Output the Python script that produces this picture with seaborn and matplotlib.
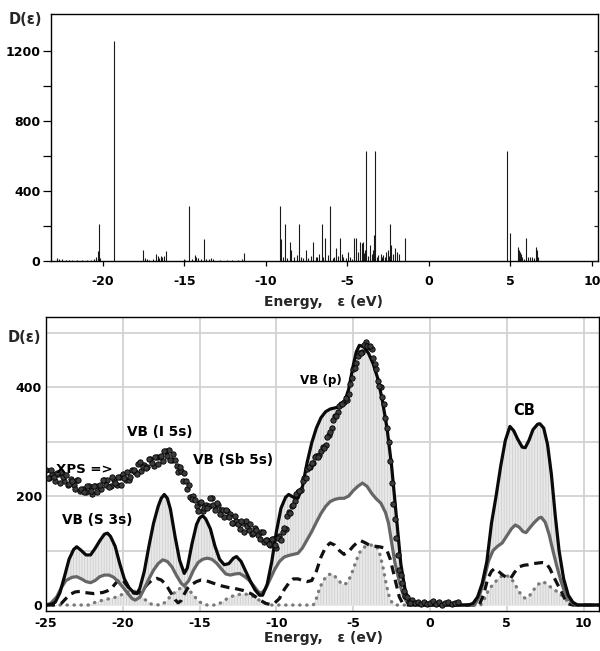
import numpy as np
import pandas as pd
import matplotlib
matplotlib.use("Agg")
import matplotlib.pyplot as plt
import seaborn as sns

# ---------------- data: top panel (stick spectrum) ----------------
STICK_E = [-22.85, -22.7, -22.5, -22.3, -22.1, -21.9, -21.6, -21.3, -21.0, -20.75, -20.55, -20.4, -20.32, -20.25, -20.18,
           -19.35,
           -17.55, -17.45, -17.3, -17.15, -16.95, -16.75, -16.65, -16.55, -16.45, -16.35, -16.25, -16.12,
           -15.05, -14.95, -14.72, -14.52, -14.38, -14.28, -14.15, -13.98, -13.78, -13.65, -13.5, -13.35, -13.25,
           -12.8, -12.4, -12.1, -11.7, -11.45, -11.32,
           -9.16, -9.08, -8.98, -8.83, -8.7, -8.53, -8.45, -8.3, -8.12, -7.96,
           -7.85, -7.7, -7.57, -7.4, -7.25, -7.1, -6.95, -6.85, -6.72, -6.58,
           -6.48, -6.38, -6.22, -6.07, -5.91, -5.8, -5.71, -5.56, -5.46, -5.35,
           -5.26, -5.09, -4.95, -4.84, -4.74, -4.6, -4.48, -4.34, -4.23, -4.13,
           -4.07, -3.99, -3.92, -3.85, -3.74, -3.62, -3.5, -3.42, -3.37, -3.3,
           -3.21, -3.1, -2.96, -2.88, -2.8, -2.72, -2.64, -2.52, -2.45, -2.39,
           -2.31, -2.19, -2.09, -1.94, -1.82, -1.45,
           4.77, 4.97, 5.44, 5.5, 5.56, 5.63, 5.71, 5.83, 5.95, 6.09, 6.2, 6.3, 6.44, 6.55, 6.6, 6.69]
STICK_D = [18, 12, 10, 8, 6, 5, 5, 4, 6, 8, 12, 22, 55, 211, 15,
           1255,
           63, 18, 12, 8, 10, 38, 30, 15, 28, 22, 30, 55,
           10, 8, 316, 10, 33, 25, 18, 12, 127, 12, 10, 15, 14,
           6, 5, 8, 6, 10, 46,
           316, 126, 20, 210, 15, 108, 60, 20, 35, 211,
           25, 15, 63, 18, 30, 108, 22, 20, 40, 210,
           25, 130, 35, 316, 15, 20, 72, 30, 130, 40,
           25, 15, 50, 20, 10, 130, 130, 50, 107, 100,
           107, 45, 60, 628, 30, 94, 40, 60, 150, 628,
           20, 35, 40, 20, 35, 25, 50, 60, 30, 210,
           94, 40, 72, 50, 40, 130,
           628, 158, 82, 60, 50, 40, 25, 12, 130, 25, 25, 22, 15, 80, 65, 20]
TOP_XTICKS = [-20, -15, -10, -5, 0, 5, 10]
TOP_YTICKS = [0, 400, 800, 1200]

# ---------------- data: bottom panel (broadened DOS + XPS) ----------------
TOT_E = [-25, -24.7, -24.4, -24.1, -23.8, -23.5, -23.2, -23.0, -22.7, -22.4,
         -22.1, -21.8, -21.5, -21.2, -21.0, -20.8, -20.5, -20.2, -19.9, -19.6,
         -19.3, -19.1, -18.9, -18.6, -18.3, -18.0, -17.7, -17.5, -17.3, -17.1,
         -16.9, -16.6, -16.3, -16.0, -15.8, -15.5, -15.2, -15.0, -14.8, -14.6,
         -14.3, -14.0, -13.7, -13.4, -13.1, -12.8, -12.6, -12.3, -12.0, -11.7,
         -11.4, -11.1, -10.9, -10.6, -10.3, -10.0, -9.7, -9.4, -9.2, -8.9,
         -8.6, -8.3, -8.0, -7.7, -7.4, -7.1, -6.8, -6.5, -6.2, -5.9,
         -5.6, -5.3, -5.0, -4.8, -4.6, -4.3, -4.0, -3.7, -3.4, -3.1,
         -2.8, -2.5, -2.2, -1.9, -1.6, -1.3, -1.0, -0.5, 2.5, 2.8,
         3.1, 3.4, 3.7, 4.0, 4.3, 4.6, 4.9, 5.2, 5.45, 5.7,
         6.0, 6.2, 6.45, 6.7, 7.0, 7.15, 7.4, 7.65, 7.9, 8.15,
         8.4, 8.7, 9.0, 9.3, 9.6, 11]
TOT_D = [0, 1, 5, 22, 52, 84, 102, 107, 100, 92,
         92, 104, 118, 130, 132, 126, 108, 76, 48, 32,
         23, 21, 30, 62, 108, 150, 181, 196, 203, 196,
         176, 126, 82, 58, 68, 112, 148, 160, 164, 158,
         140, 108, 84, 74, 76, 86, 89, 80, 62, 44,
         28, 18, 18, 38, 80, 135, 178, 198, 203, 198,
         196, 218, 262, 298, 325, 344, 355, 360, 362, 364,
         370, 396, 440, 465, 477, 474, 462, 443, 416, 375,
         325, 255, 165, 75, 24, 7, 1, 0, 0, 3,
         15, 40, 80, 150, 200, 255, 302, 328, 320, 305,
         290, 289, 303, 322, 332, 333, 325, 295, 240, 165,
         100, 48, 18, 5, 0, 0]

PART_E = [-25, -24.7, -24.3, -24.0, -23.7, -23.3, -23.0, -22.7, -22.4, -22.1,
          -21.8, -21.5, -21.2, -20.9, -20.6, -20.3, -20.0, -19.7, -19.4, -19.2,
          -18.9, -18.6, -18.3, -18.0, -17.7, -17.4, -17.1, -16.8, -16.5, -16.2,
          -16.0, -15.7, -15.4, -15.1, -14.8, -14.5, -14.2, -13.9, -13.6, -13.3,
          -13.0, -12.7, -12.4, -12.1, -11.8, -11.5, -11.2, -11.0, -10.7, -10.4,
          -10.1, -9.8, -9.5, -9.2, -8.9, -8.6, -8.3, -8.0, -7.7, -7.4,
          -7.1, -6.8, -6.5, -6.2, -5.9, -5.6, -5.3, -5.0, -4.7, -4.4,
          -4.1, -3.8, -3.5, -3.2, -2.9, -2.7, -2.5, -2.3, -2.1, -1.9,
          -1.7, -1.5, -1.2, 2.9, 3.2, 3.5, 3.8, 4.1, 4.4, 4.7,
          5.0, 5.3, 5.55, 5.8, 6.05, 6.25, 6.5, 6.8, 7.1, 7.25,
          7.5, 7.75, 8.0, 8.25, 8.5, 8.75, 9.0, 9.3, 9.6, 11]
PART_D = [0, 3, 15, 32, 45, 51, 52, 48, 43, 41,
          45, 52, 55, 55, 51, 43, 33, 22, 12, 9,
          14, 30, 48, 64, 76, 83, 80, 70, 54, 40,
          35, 45, 64, 78, 84, 86, 84, 77, 67, 57,
          55, 57, 58, 53, 46, 36, 25, 21, 30, 48,
          66, 80, 88, 91, 93, 95, 105, 120, 135, 152,
          168, 181, 190, 194, 196, 196, 200, 210, 218, 224,
          218, 205, 195, 187, 170, 150, 115, 80, 55, 32,
          15, 5, 0, 0, 15, 45, 80, 100, 108, 114,
          127, 140, 147, 143, 135, 133, 142, 152, 160, 161,
          152, 130, 100, 72, 46, 25, 12, 3, 0, 0]

DASH_E = [-25, -24.5, -24.0, -23.7, -23.4, -23.1, -22.8, -22.5, -22.2, -21.9,
          -21.6, -21.3, -21.0, -20.7, -20.4, -20.2, -20.0, -19.8, -19.5, -19.3,
          -19.0, -18.7, -18.4, -18.1, -17.8, -17.5, -17.2, -16.9, -16.6, -16.4,
          -16.2, -16.0, -15.8, -15.5, -15.2, -14.9, -14.6, -14.3, -14.0, -13.7,
          -13.4, -13.1, -12.8, -12.5, -12.2, -11.9, -11.6, -11.3, -11.0, -10.7,
          -10.4, -10.1, -9.8, -9.5, -9.2, -8.9, -8.6, -8.3, -8.0, -7.7,
          -7.4, -7.1, -6.8, -6.5, -6.2, -5.9, -5.6, -5.3, -5.0, -4.7,
          -4.5, -4.2, -3.9, -3.6, -3.3, -3.0, -2.8, -2.6, -2.4, -2.2,
          -2.0, -1.8, -1.6, 3.2, 3.5, 3.75, 4.0, 4.2, 4.45, 4.7,
          5.0, 5.25, 5.5, 5.8, 6.1, 6.4, 6.7, 7.0, 7.3, 7.55,
          7.8, 8.05, 8.3, 8.55, 8.8, 9.0, 9.3, 11]
DASH_D = [0, 0, 3, 12, 20, 24, 25, 23, 22, 21,
          22, 23, 26, 32, 42, 48, 46, 38, 28, 22,
          22, 28, 38, 46, 49, 46, 38, 24, 10, 4,
          8, 20, 30, 38, 43, 46, 45, 42, 39, 36,
          34, 32, 31, 29, 27, 24, 20, 14, 8, 3,
          1, 4, 12, 28, 40, 48, 48, 45, 43, 45,
          62, 88, 106, 114, 110, 100, 93, 98, 108, 116,
          118, 114, 109, 108, 107, 105, 100, 85, 62, 38,
          15, 4, 0, 0, 20, 48, 62, 67, 62, 56,
          50, 49, 60, 70, 73, 74, 76, 77, 78, 77,
          67, 52, 38, 25, 10, 2, 0, 0]

DOT_E = [-25, -22.2, -21.9, -21.3, -20.5, -20.0, -19.6, -19.3, -19.0, -18.7,
         -18.4, -18.1, -17.5, -17.2, -16.9, -16.5, -16.2, -16.0, -15.7, -15.4,
         -15.1, -14.8, -14.5, -13.9, -13.5, -13.2, -12.8, -12.3, -12.0, -11.6,
         -11.3, -11.0, -10.7, -10.3, -7.6, -7.4, -7.2, -7.0, -6.8, -6.6,
         -6.35, -6.1, -5.85, -5.6, -5.35, -5.1, -4.85, -4.6, -4.3, -4.0,
         -3.7, -3.45, -3.25, -3.05, -2.85, -2.65, -2.45, -2.2, 3.3, 3.55,
         3.8, 4.1, 4.4, 4.7, 4.9, 5.15, 5.4, 5.65, 5.9, 6.2,
         6.45, 6.75, 7.0, 7.3, 7.55, 7.85, 8.15, 8.45, 8.75, 9.0,
         9.3, 11]
DOT_D = [0, 0, 4, 9, 14, 20, 25, 26, 22, 14,
         6, 1, 0, 6, 16, 26, 32, 34, 28, 18,
         8, 2, 0, 0, 6, 12, 17, 20, 20, 17,
         12, 7, 3, 0, 0, 12, 30, 42, 51, 56,
         57, 50, 42, 37, 42, 58, 78, 96, 106, 110,
         110, 106, 92, 68, 38, 15, 3, 0, 0, 12,
         27, 38, 47, 54, 55, 52, 44, 32, 20, 12,
         16, 28, 37, 43, 40, 33, 27, 21, 13, 6,
         0, 0]

# XPS experimental points (two interleaved readings of the scattered band)
XPS_E = [-25.0, -24.8, -24.6, -24.4, -24.2, -24.0, -23.8, -23.6, -23.4, -23.2,
         -23.0, -22.8, -22.6, -22.4, -22.2, -22.0, -21.8, -21.6, -21.4, -21.2,
         -21.0, -20.8, -20.6, -20.4, -20.2, -20.0, -19.8, -19.6, -19.4, -19.2,
         -19.0, -18.8, -18.6, -18.4, -18.2, -18.0, -17.8, -17.6, -17.4, -17.2,
         -17.0, -16.8, -16.6, -16.4, -16.2, -16.0, -15.8, -15.6, -15.4, -15.2,
         -15.0, -14.8, -14.6, -14.4, -14.2, -14.0, -13.8, -13.6, -13.4, -13.2,
         -13.0, -12.8, -12.6, -12.4, -12.2, -12.0, -11.8, -11.6, -11.4, -11.2,
         -11.0, -10.8, -10.6, -10.4, -10.2, -10.0, -9.8, -9.6, -9.4, -9.2,
         -9.0, -8.8, -8.6, -8.4, -8.2, -8.0, -7.8, -7.6, -7.4, -7.2,
         -7.0, -6.8, -6.6, -6.4, -6.2, -6.0, -5.8, -5.6, -5.4, -5.2,
         -5.0, -4.8, -4.6, -4.4, -4.2, -4.0, -3.8, -3.6, -3.4, -3.2,
         -3.0, -2.8, -2.6, -2.4, -2.2, -2.0, -1.8, -1.6, -1.4, -1.2,
         -1.0, -0.8, -0.6, -0.4, -0.2, 0.0, 0.2, 0.4, 0.6, 0.8,
         1.0, 1.2, 1.4, 1.6, 1.8]
XPS_D = [248, 233, 241, 228, 240, 244, 227, 220, 231, 220,
         229, 210, 214, 207, 219, 203, 219, 219, 213, 229,
         230, 219, 230, 220, 235, 240, 230, 230, 248, 244,
         259, 246, 257, 254, 269, 255, 271, 271, 265, 282,
         284, 266, 266, 244, 247, 242, 214, 198, 200, 182,
         187, 172, 184, 182, 197, 175, 184, 175, 162, 172,
         168, 150, 155, 140, 151, 154, 138, 131, 141, 129,
         135, 115, 120, 111, 121, 105, 127, 135, 139, 170,
         182, 191, 208, 211, 234, 250, 254, 261, 274, 276,
         290, 293, 312, 325, 348, 355, 370, 373, 377, 406,
         434, 444, 462, 465, 483, 473, 470, 443, 412, 400,
         369, 325, 264, 185, 123, 65, 40, 16, 5, 9,
         4, 6, 2, 5, 1, 4, 7, 2, 5, 0,
         4, 6, 1, 3, 5]
XPS2_E = [-24.9, -24.7, -24.5, -24.3, -24.1, -23.9, -23.7, -23.5, -23.3, -23.1,
          -22.9, -22.7, -22.5, -22.3, -22.1, -21.9, -21.7, -21.5, -21.3, -21.1,
          -20.9, -20.7, -20.5, -20.3, -20.1, -19.9, -19.7, -19.5, -19.3, -19.1,
          -18.9, -18.7, -18.5, -18.3, -18.1, -17.9, -17.7, -17.5, -17.3, -17.1,
          -16.9, -16.7, -16.5, -16.3, -16.1, -15.9, -15.7, -15.5, -15.3, -15.1,
          -14.9, -14.7, -14.5, -14.3, -14.1, -13.9, -13.7, -13.5, -13.3, -13.1,
          -12.9, -12.7, -12.5, -12.3, -12.1, -11.9, -11.7, -11.5, -11.3, -11.1,
          -10.9, -10.7, -10.5, -10.3, -10.1, -9.9, -9.7, -9.5, -9.3, -9.1,
          -8.9, -8.7, -8.5, -8.3, -8.1, -7.9, -7.7, -7.5, -7.3, -7.1,
          -6.9, -6.7, -6.5, -6.3, -6.1, -5.9, -5.7, -5.5, -5.3, -5.1,
          -4.9, -4.7, -4.5, -4.3, -4.1, -3.9, -3.7, -3.5, -3.3, -3.1,
          -2.9, -2.7, -2.5, -2.3, -2.1, -1.9, -1.7, -1.5, -1.3]
XPS2_D = [233, 248, 235, 242, 225, 235, 238, 222, 228, 213,
          229, 213, 207, 219, 209, 219, 207, 221, 229, 221,
          217, 235, 225, 236, 220, 234, 244, 235, 248, 240,
          262, 253, 252, 268, 260, 271, 259, 273, 282, 274,
          267, 277, 255, 254, 227, 227, 220, 195, 193, 173,
          189, 179, 179, 196, 184, 188, 168, 174, 175, 161,
          151, 163, 148, 154, 135, 145, 149, 132, 137, 121,
          134, 119, 112, 122, 111, 124, 119, 142, 163, 169,
          183, 204, 209, 227, 234, 253, 260, 272, 271, 282,
          288, 308, 318, 339, 348, 366, 369, 380, 388, 417,
          436, 457, 463, 478, 475, 475, 454, 433, 402, 382,
          344, 299, 224, 158, 91, 56, 25, 15, 3]

BOT_XTICKS = [-25, -20, -15, -10, -5, 0, 5, 10]
BOT_YTICKS = [0, 200, 400]
BOT_YGRID = [100, 300, 500]

LABELS = [("VB (S 3s)", -21.68, 156, 9.8),
          ("VB (I 5s)", -17.58, 317, 9.8),
          ("VB (Sb 5s)", -12.83, 266, 9.8),
          ("XPS =>", -22.5, 248, 9.6),
          ("VB (p)", -7.11, 413, 8.6),
          ("CB", 6.1, 358, 10.5)]

# ---------------- style ----------------
sns.set_style("white")
plt.rcParams["font.family"] = ["DejaVu Sans"]
plt.rcParams["font.weight"] = "bold"
plt.rcParams["axes.unicode_minus"] = False
plt.rcParams["hatch.linewidth"] = 0.5

W, H = 600, 651
fig = plt.figure(figsize=(W / 100, H / 100), dpi=100)
fig.patch.set_facecolor("white")

# ---------------- top panel ----------------
ax1 = fig.add_axes([51 / W, 1 - 261 / H, 547 / W, 247 / H])
ax1.vlines(STICK_E, 0, STICK_D, color="#1a1a1a", linewidth=0.8)
ax1.set_xlim(-23.19, 10.37)
ax1.set_ylim(0, 1409)
ax1.set_xticks(TOP_XTICKS)
ax1.set_xticklabels([str(t) for t in TOP_XTICKS])
ax1.set_yticks(TOP_YTICKS)
ax1.set_yticklabels([str(t) for t in TOP_YTICKS])
ax1.set_yticks([200, 600, 1000], minor=True)
ax1.tick_params(axis="x", which="major", direction="out", length=3.8, width=0.9,
                labelsize=9, pad=6, colors="black", bottom=True)
ax1.tick_params(axis="y", which="both", direction="out", length=5.5, width=0.9,
                labelsize=9, pad=2, colors="black", left=True)
for s in ax1.spines.values():
    s.set_color("black")
    s.set_linewidth(1.0)
ax1r = ax1.twinx()
ax1r.set_ylim(0, 1409)
ax1r.set_yticks([0, 200, 400, 600, 800, 1000, 1200])
ax1r.tick_params(axis="y", direction="in", length=3, width=0.9, labelright=False, right=True)
for s in ax1r.spines.values():
    s.set_visible(False)

fig.text(25 / W, 1 - 19 / H, "D(ε)", ha="center", va="center", fontsize=10.5, fontweight="bold")
fig.text(324 / W, 1 - 302 / H, "Energy,   ε (eV)", ha="center", va="center", fontsize=10, fontweight="bold")

# ---------------- bottom panel ----------------
ax2 = fig.add_axes([46 / W, 1 - 611 / H, 553 / W, 294 / H])
ax2.set_axisbelow(True)

ax2.fill_between(TOT_E, 0, TOT_D, facecolor="#e8e8e8", hatch="||||||", edgecolor="#cccccc",
                 linewidth=0, zorder=1)
ax2.fill_between(PART_E, 0, PART_D, facecolor="white", linewidth=0, zorder=1.1)
ax2.fill_between(DOT_E, 0, DOT_D, facecolor="#e8e8e8", hatch="||||||", edgecolor="#cccccc",
                 linewidth=0, zorder=1.2)

sns.lineplot(x=DOT_E, y=DOT_D, ax=ax2, color="#7a7a7a", linewidth=2.4,
             linestyle=(0, (0.1, 2.0)), dash_capstyle="round", sort=False, estimator=None, zorder=2)
sns.lineplot(x=DASH_E, y=DASH_D, ax=ax2, color="#111111", linewidth=2.3,
             linestyle=(0, (2.8, 1.8)), sort=False, estimator=None, zorder=2.1)
sns.lineplot(x=PART_E, y=PART_D, ax=ax2, color="#666666", linewidth=2.3,
             sort=False, estimator=None, zorder=2.2)
sns.lineplot(x=TOT_E, y=TOT_D, ax=ax2, color="#0a0a0a", linewidth=2.3,
             sort=False, estimator=None, zorder=2.3)

xps = pd.DataFrame({"E": XPS_E + XPS2_E, "D": XPS_D + XPS2_D})
sns.scatterplot(data=xps, x="E", y="D", ax=ax2, s=15, color="#3c3c3c", edgecolor="black",
                linewidth=0.6, zorder=4)

for txt, x, y, fs in LABELS:
    ax2.text(x, y, txt, ha="center", va="center", fontsize=fs, fontweight="bold",
             color="black", zorder=5)

ax2.set_xlim(-25, 11)
ax2.set_ylim(-11, 529)
ax2.set_xticks(BOT_XTICKS)
ax2.set_xticklabels([str(t) for t in BOT_XTICKS])
ax2.set_yticks(BOT_YTICKS)
ax2.set_yticklabels([str(t) for t in BOT_YTICKS])
ax2.set_yticks(BOT_YGRID, minor=True)
ax2.grid(True, which="both", color="#d2d2d2", linewidth=1.3)
ax2.tick_params(axis="both", which="both", length=0, labelsize=9, colors="black")
ax2.tick_params(axis="x", pad=4.5)
ax2.tick_params(axis="y", pad=3)
ax2.set_xlabel("")
ax2.set_ylabel("")
for s in ax2.spines.values():
    s.set_color("black")
    s.set_linewidth(1.0)
    s.set_zorder(6)

fig.text(24 / W, 1 - 337 / H, "D(ε)", ha="center", va="center", fontsize=10.5, fontweight="bold")
fig.text(323 / W, 1 - 638 / H, "Energy,   ε (eV)", ha="center", va="center", fontsize=10, fontweight="bold")

fig.savefig("out.png", dpi=100, facecolor="white")
